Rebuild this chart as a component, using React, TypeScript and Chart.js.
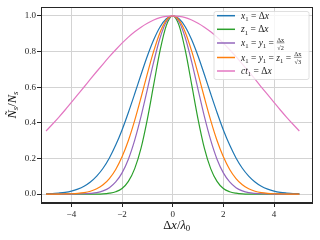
import { useEffect, useRef } from "react";
import { Chart, registerables } from "chart.js";
Chart.register(...registerables);

const xValues = [-5, -4.75, -4.5, -4.25, -4, -3.75, -3.5, -3.25, -3, -2.75, -2.5, -2.25, -2, -1.75, -1.5, -1.25, -1, -0.75, -0.5, -0.25, 0, 0.25, 0.5, 0.75, 1, 1.25, 1.5, 1.75, 2, 2.25, 2.5, 2.75, 3, 3.25, 3.5, 3.75, 4, 4.25, 4.5, 4.75, 5];

const seriesX1 = [0.002, 0.003, 0.006, 0.010, 0.017, 0.028, 0.044, 0.068, 0.101, 0.145, 0.203, 0.275, 0.360, 0.458, 0.563, 0.671, 0.775, 0.866, 0.938, 0.984, 1, 0.984, 0.938, 0.866, 0.775, 0.671, 0.563, 0.458, 0.360, 0.275, 0.203, 0.145, 0.101, 0.068, 0.044, 0.028, 0.017, 0.010, 0.006, 0.003, 0.002];
const seriesZ1 = [0, 0, 0, 0, 0, 0, 0, 0, 0, 0.001, 0.005, 0.013, 0.031, 0.071, 0.143, 0.258, 0.421, 0.614, 0.805, 0.947, 1, 0.947, 0.805, 0.614, 0.421, 0.258, 0.143, 0.071, 0.031, 0.013, 0.005, 0.001, 0, 0, 0, 0, 0, 0, 0, 0, 0];
const seriesXY = [0, 0, 0, 0, 0, 0.001, 0.002, 0.004, 0.008, 0.018, 0.036, 0.068, 0.119, 0.196, 0.303, 0.436, 0.588, 0.742, 0.876, 0.967, 1, 0.967, 0.876, 0.742, 0.588, 0.436, 0.303, 0.196, 0.119, 0.068, 0.036, 0.018, 0.008, 0.004, 0.002, 0.001, 0, 0, 0, 0, 0];
const seriesXYZ = [0, 0, 0, 0.001, 0.002, 0.004, 0.008, 0.016, 0.030, 0.052, 0.087, 0.138, 0.209, 0.301, 0.414, 0.542, 0.676, 0.802, 0.907, 0.976, 1, 0.976, 0.907, 0.802, 0.676, 0.542, 0.414, 0.301, 0.209, 0.138, 0.087, 0.052, 0.030, 0.016, 0.008, 0.004, 0.002, 0.001, 0, 0, 0];
const seriesCT = [0.354, 0.392, 0.431, 0.472, 0.515, 0.558, 0.601, 0.645, 0.688, 0.730, 0.771, 0.810, 0.847, 0.881, 0.911, 0.937, 0.959, 0.977, 0.990, 0.997, 1, 0.997, 0.990, 0.977, 0.959, 0.937, 0.911, 0.881, 0.847, 0.810, 0.771, 0.730, 0.688, 0.645, 0.601, 0.558, 0.515, 0.472, 0.431, 0.392, 0.354];

const seriesList = [seriesX1, seriesZ1, seriesXY, seriesXYZ, seriesCT];
const seriesLabels = ["x₁ = Δx", "z₁ = Δx", "x₁ = y₁ = Δx/√2", "x₁ = y₁ = z₁ = Δx/√3", "ct₁ = Δx"];
const seriesColors = ["#1f77b4", "#2ca02c", "#9467bd", "#ff7f0e", "#e377c2"];

const xTicks = [-4, -2, 0, 2, 4];
const yTicks = [0, 0.2, 0.4, 0.6, 0.8, 1.0];
const xTitle = "Δx/λ₀";
const yTitle = "Ñₛ/Nₛ";

const FAM = "'Liberation Serif', 'DejaVu Serif', serif";
const SUB: Record<string, string> = { "₀": "0", "₁": "1", "₂": "2", "₃": "3", "ₛ": "s" };

type Seg = { kind: "c"; ch: string; sub: boolean; it: boolean } | { kind: "f"; num: string; den: string };

function parse(text: string): Seg[] {
  const segs: Seg[] = [];
  let rest = text;
  const m = rest.match(/Δx\/(√\d)$/);
  let frac: Seg | null = null;
  if (m) {
    rest = rest.slice(0, rest.length - m[0].length);
    frac = { kind: "f", num: "Δx", den: m[1] };
  }
  for (const ch of Array.from(rest)) {
    if (SUB[ch]) segs.push({ kind: "c", ch: SUB[ch], sub: true, it: /[a-z]/i.test(SUB[ch]) });
    else segs.push({ kind: "c", ch, sub: false, it: /[a-zA-Zλ]|Ñ/.test(ch) });
  }
  if (frac) segs.push(frac);
  return segs;
}

function font(size: number, it: boolean) {
  return `${it ? "italic " : ""}${size}px ${FAM}`;
}

function drawRich(ctx: CanvasRenderingContext2D, text: string, x: number, cy: number, size: number, align: "left" | "center") {
  const segs = parse(text);
  const fs = size * 0.66;
  const widths = segs.map((s) => {
    if (s.kind === "c") {
      ctx.font = font(s.sub ? size * 0.7 : size, s.it);
      return ctx.measureText(s.ch).width;
    }
    ctx.font = font(fs, false);
    const a = ctx.measureText(s.num).width;
    const b = ctx.measureText(s.den).width;
    return Math.max(a, b) + 1.5;
  });
  const total = widths.reduce((a, b) => a + b, 0);
  let px = align === "center" ? x - total / 2 : x;
  const base = cy + size * 0.33;
  ctx.textAlign = "left";
  ctx.textBaseline = "alphabetic";
  segs.forEach((s, i) => {
    const w = widths[i];
    if (s.kind === "c") {
      ctx.font = font(s.sub ? size * 0.7 : size, s.it);
      ctx.fillText(s.ch, px, s.sub ? base + size * 0.22 : base);
    } else {
      ctx.font = font(fs, false);
      ctx.textAlign = "center";
      ctx.fillText(s.num, px + w / 2, cy - 1.3);
      ctx.fillText(s.den, px + w / 2, cy + fs + 0.4);
      ctx.textAlign = "left";
      ctx.beginPath();
      ctx.lineWidth = 0.5;
      ctx.moveTo(px + 0.5, cy - 0.2);
      ctx.lineTo(px + w - 0.5, cy - 0.2);
      ctx.stroke();
    }
    px += w;
  });
}

const decorPlugin = {
  id: "decor",
  afterDatasetsDraw(chart: any) {
    const { ctx, chartArea: a } = chart;
    ctx.save();
    ctx.strokeStyle = "#262626";
    ctx.lineWidth = 1;
    ctx.strokeRect(Math.round(a.left) + 0.5, Math.round(a.top) + 0.5, Math.round(a.right - a.left) - 1, Math.round(a.bottom - a.top) - 1);

    // legend
    const lx = 214, ly = 11.5, lw = 95, lh = 68;
    ctx.beginPath();
    const r = 2;
    ctx.moveTo(lx + r, ly);
    ctx.arcTo(lx + lw, ly, lx + lw, ly + lh, r);
    ctx.arcTo(lx + lw, ly + lh, lx, ly + lh, r);
    ctx.arcTo(lx, ly + lh, lx, ly, r);
    ctx.arcTo(lx, ly, lx + lw, ly, r);
    ctx.closePath();
    ctx.fillStyle = "rgba(255,255,255,0.8)";
    ctx.fill();
    ctx.strokeStyle = "#d8d8d8";
    ctx.lineWidth = 0.8;
    ctx.stroke();
    const rows = [15.7, 29.3, 43, 57.5, 71];
    seriesLabels.forEach((lab, i) => {
      const y = rows[i];
      ctx.strokeStyle = seriesColors[i];
      ctx.lineWidth = 1.5;
      ctx.beginPath();
      ctx.moveTo(217, y);
      ctx.lineTo(235, y);
      ctx.stroke();
      ctx.fillStyle = "#222";
      ctx.strokeStyle = "#222";
      drawRich(ctx, lab, 241, y, 9.5, "left");
    });

    // axis titles
    ctx.fillStyle = "#111";
    ctx.strokeStyle = "#111";
    drawRich(ctx, xTitle, (a.left + a.right) / 2, 224.5, 12.5, "center");
    ctx.save();
    ctx.translate(11.5, (a.top + a.bottom) / 2);
    ctx.rotate(-Math.PI / 2);
    drawRich(ctx, yTitle, 0, 0, 12.5, "center");
    ctx.restore();
    ctx.restore();
  },
};

function fmtX(v: number) {
  return v < 0 ? "−" + Math.abs(v) : String(v);
}

export default function App() {
  const ref = useRef<HTMLCanvasElement>(null);
  useEffect(() => {
    if (!ref.current) return;
    const datasets = seriesList.map((s, i) => ({
      label: seriesLabels[i],
      data: xValues.map((x, j) => ({ x, y: s[j] })),
      borderColor: seriesColors[i],
      backgroundColor: seriesColors[i],
      borderWidth: 1.2,
      pointRadius: 0,
      cubicInterpolationMode: "monotone" as const,
      fill: false,
      order: seriesList.length - i,
    }));
    const tickFont = { family: FAM, size: 9 };
    const chart = new Chart(ref.current, {
      type: "line",
      data: { datasets },
      plugins: [decorPlugin],
      options: {
        animation: false,
        responsive: false,
        maintainAspectRatio: false,
        layout: { padding: { top: 7, right: 7.5, left: 0, bottom: 0 } },
        plugins: { legend: { display: false }, tooltip: { enabled: false } },
        scales: {
          x: {
            type: "linear",
            min: -5.2,
            max: 5.52,
            afterBuildTicks: (s: any) => {
              s.ticks = xTicks.map((v) => ({ value: v }));
            },
            afterFit: (s: any) => {
              s.height = 37;
            },
            ticks: { callback: (v: any) => fmtX(Number(v)), font: tickFont, color: "#262626", padding: 2, maxRotation: 0, autoSkip: false },
            grid: { color: "#d3d3d3", lineWidth: 1, tickColor: "#262626", tickLength: 4 },
            border: { color: "#262626", width: 1 },
          },
          y: {
            type: "linear",
            min: -0.05,
            max: 1.05,
            afterBuildTicks: (s: any) => {
              s.ticks = yTicks.map((v) => ({ value: v }));
            },
            afterFit: (s: any) => {
              s.width = 41;
            },
            ticks: { callback: (v: any) => Number(v).toFixed(1), font: tickFont, color: "#262626", padding: 1, autoSkip: false },
            grid: { color: "#d3d3d3", lineWidth: 1, tickColor: "#262626", tickLength: 4 },
            border: { color: "#262626", width: 1 },
          },
        },
      },
    });
    return () => chart.destroy();
  }, []);
  return (
    <div style={{ position: "absolute", left: 0, top: 0, width: 320, height: 240, background: "#fff" }}>
      <canvas ref={ref} width={320} height={240} style={{ display: "block", width: 320, height: 240 }} />
    </div>
  );
}
